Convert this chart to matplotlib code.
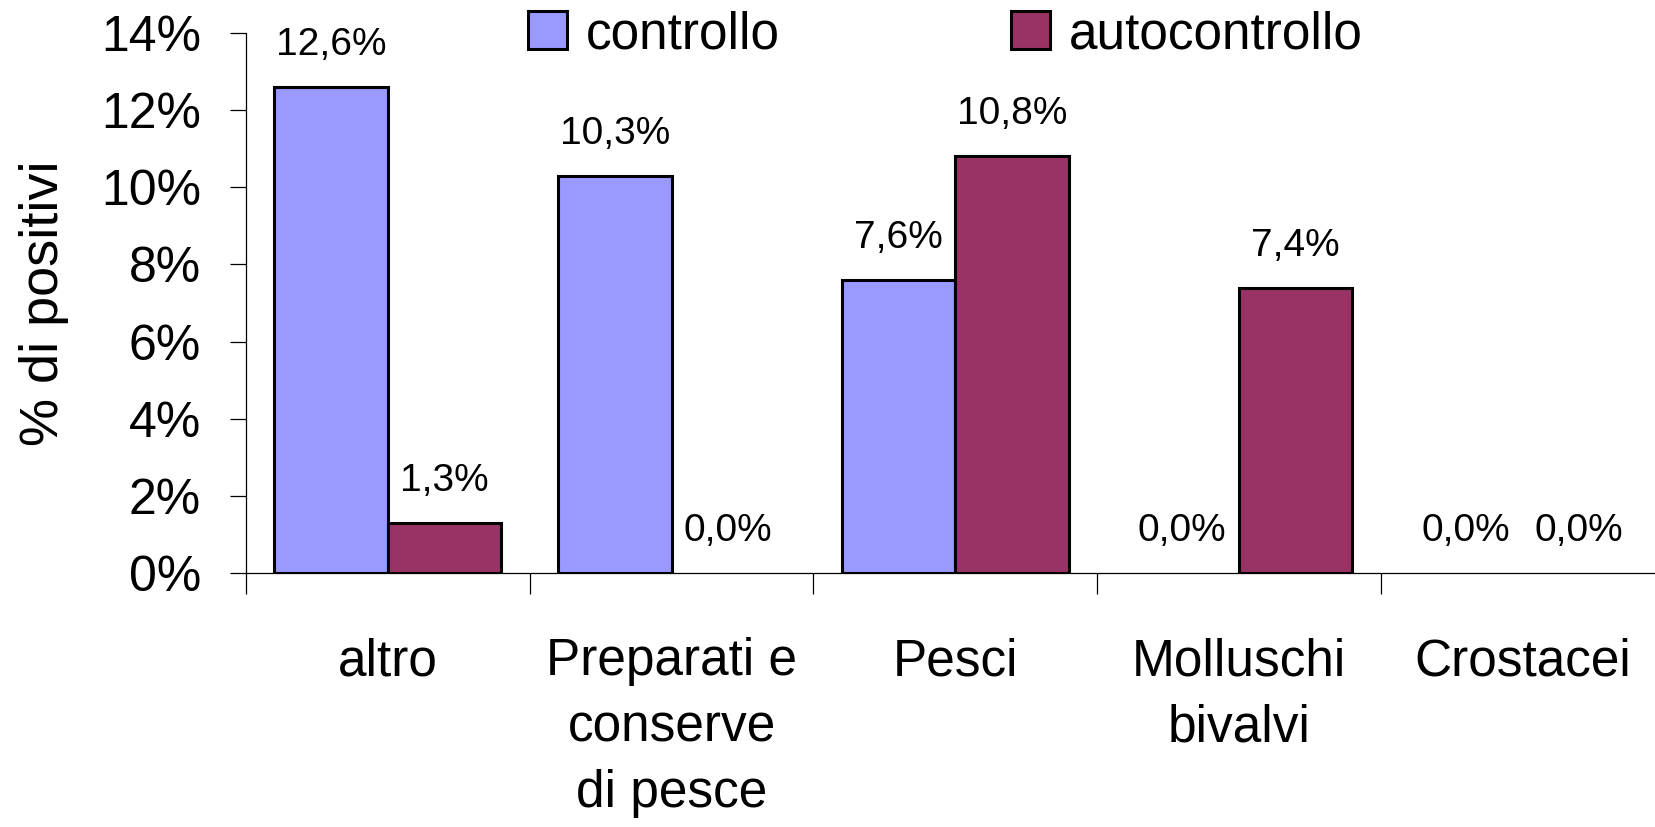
import numpy as np
import matplotlib
matplotlib.use("Agg")
import matplotlib.pyplot as plt
from matplotlib.ticker import FuncFormatter, FixedLocator

plt.rcParams["font.family"] = ["Liberation Sans", "DejaVu Sans"]

categories = ["altro", "Preparati e\nconserve\ndi pesce", "Pesci", "Molluschi\nbivalvi", "Crostacei"]
controllo = [12.6, 10.3, 7.6, 0.0, 0.0]
autocontrollo = [1.3, 0.0, 10.8, 7.4, 0.0]
series_names = ["controllo", "autocontrollo"]
colors = ["#9999FF", "#993366"]

fig = plt.figure(figsize=(16.56, 8.27), dpi=100)
ax = fig.add_axes([0.1486, 0.3068, 0.8564, 0.6537])

x = np.arange(len(categories)) + 0.5
width = 0.4
for i, (vals, name, col) in enumerate(zip([controllo, autocontrollo], series_names, colors)):
    pos = x + (i - 0.5) * width
    vals = np.array(vals)
    # empty bars get no outline, only the axis line shows there
    lw = np.where(vals > 0, 2.2, 0)
    ax.bar(pos, vals / 100, width, color=col, edgecolor="black",
           linewidth=lw, label=name, zorder=3)
    for p, v in zip(pos, vals):
        ax.annotate(f"{v:.1f}%".replace(".", ","), (p, v / 100), xytext=(0, 23),
                    textcoords="offset points", ha="center", va="baseline",
                    fontsize=28)

ax.set_xlim(0, len(categories))
ax.set_ylim(0, 0.14)
ax.set_yticks(np.arange(0, 0.141, 0.02))
ax.yaxis.set_major_formatter(FuncFormatter(lambda v, _: f"{v * 100:.0f}%"))
ax.tick_params(axis="y", labelsize=36, length=11.5, width=0.9, pad=21)

# category labels at centres, tick marks on the boundaries
ax.set_xticks(x)
ax.set_xticklabels(categories, fontsize=37, linespacing=1.45)
ax.tick_params(axis="x", length=0, pad=46)
ax.xaxis.set_minor_locator(FixedLocator(np.arange(len(categories) + 1)))
ax.tick_params(axis="x", which="minor", length=15, width=0.9)

for s in ["top", "right"]:
    ax.spines[s].set_visible(False)
for s in ["left", "bottom"]:
    ax.spines[s].set_linewidth(0.9)

ax.set_ylabel("% di positivi", fontsize=39, labelpad=23)

fig.legend(loc="center left", bbox_to_anchor=(0.319, 0.958), ncol=2,
           frameon=False, fontsize=37, handlelength=0.75, handleheight=0.75,
           handletextpad=0.37, columnspacing=4.5, borderpad=0, borderaxespad=0)

fig.savefig("out.png", dpi=100)
